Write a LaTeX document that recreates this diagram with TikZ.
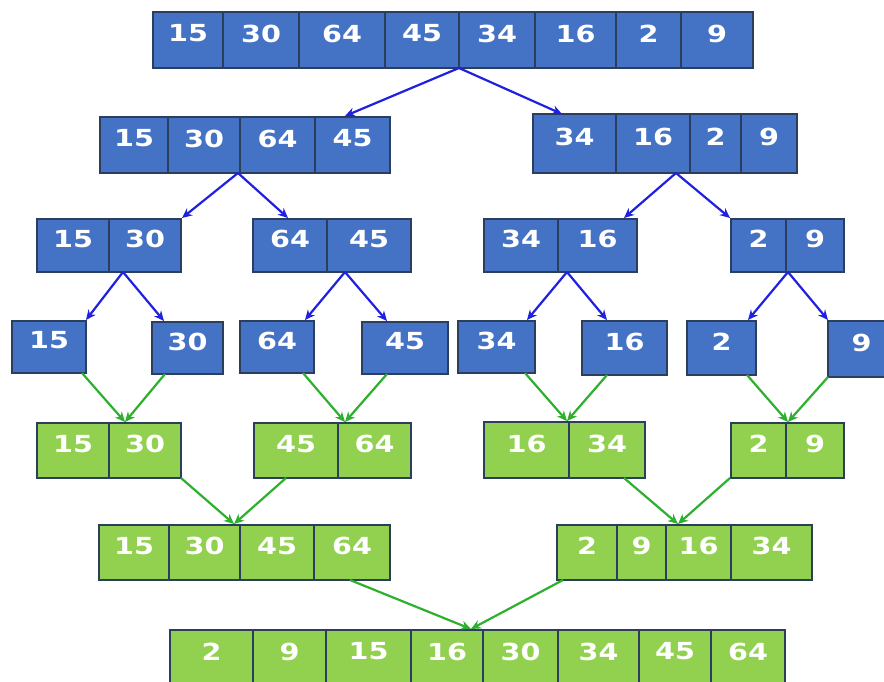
\documentclass[tikz,border=0pt]{standalone}
\usepackage{fontspec}
\newfontfamily\cellfont[FakeStretch=1.22]{DejaVu Sans Bold}
\usetikzlibrary{arrows.meta}
\definecolor{cblue}{HTML}{4472C4}
\definecolor{cgreen}{HTML}{92D050}
\definecolor{cedge}{HTML}{2B3E5E}
\definecolor{ablue}{HTML}{2020E0}
\definecolor{agreen}{HTML}{2DB02D}
\tikzset{
 cellbox/.style={draw=cedge, line width=1.5pt, inner sep=0pt, outer sep=0pt, anchor=north west},
 bluecell/.style={cellbox, fill=cblue},
 greencell/.style={cellbox, fill=cgreen},
 celltext/.style={text=white, inner sep=0pt, font=\cellfont\fontsize{23.5}{24}\selectfont, yshift=6.5pt},
 splitarrow/.style={draw=ablue, line width=2.2pt, -{Stealth[length=10pt,width=9pt]}},
 mergearrow/.style={draw=agreen, line width=2.2pt, -{Stealth[length=10pt,width=9pt]}},
}
\newcommand\cellrow[5]{%
 \foreach \xl/\xr/\lab [count=\i] in {#5}{%
   \pgfmathsetmacro\cw{\xr-\xl}%
   \pgfmathsetmacro\ch{#3-#2}%
   \node[#4, minimum width=\cw pt, minimum height=\ch pt] (#1\i) at (\xl,#2) {};
   \node[celltext] (#1\i t) at (#1\i.center) {\lab};
 }}
\begin{document}
\begin{tikzpicture}[x=1pt,y=-1pt]
\useasboundingbox (0,0) rectangle (884,681);
\clip (0,0) rectangle (884,681);
% split rows (blue)
\cellrow{ra}{12}{68}{bluecell}{153/223/15,223/299/30,299/385/64,385/459/45,459/535/34,535/616/16,616/681/2,681/753/9}
\cellrow{rbl}{117}{173}{bluecell}{100/168/15,168/240/30,240/315/64,315/390/45}
\cellrow{rbr}{114}{173}{bluecell}{533/616/34,616/690/16,690/741/2,741/797/9}
\cellrow{rca}{219}{272}{bluecell}{37/109/15,109/181/30}
\cellrow{rcb}{219}{272}{bluecell}{253/327/64,327/411/45}
\cellrow{rcc}{219}{272}{bluecell}{484/558/34,558/637/16}
\cellrow{rcd}{219}{272}{bluecell}{731/786/2,786/844/9}
\cellrow{rda}{321}{373}{bluecell}{12/86/15}
\cellrow{rdb}{322}{374}{bluecell}{152/223/30}
\cellrow{rdc}{321}{373}{bluecell}{240/314/64}
\cellrow{rdd}{322}{374}{bluecell}{362/448/45}
\cellrow{rde}{321}{373}{bluecell}{458/535/34}
\cellrow{rdf}{321}{375}{bluecell}{582/667/16}
\cellrow{rdg}{321}{375}{bluecell}{687/756/2}
\cellrow{rdh}{321}{377}{bluecell}{828/895/9}
% merge rows (green)
\cellrow{rea}{423}{478}{greencell}{37/109/15,109/181/30}
\cellrow{reb}{423}{478}{greencell}{254/338/45,338/411/64}
\cellrow{rec}{422}{478}{greencell}{484/569/16,569/645/34}
\cellrow{red}{423}{478}{greencell}{731/786/2,786/844/9}
\cellrow{rfl}{525}{580}{greencell}{99/169/15,169/240/30,240/314/45,314/390/64}
\cellrow{rfr}{525}{580}{greencell}{557/617/2,617/666/9,666/731/16,731/812/34}
\cellrow{rg}{630}{686}{greencell}{170/253/2,253/326/9,326/411/15,411/483/16,483/558/30,558/639/34,639/711/45,711/785/64}
% connector end points
\coordinate (s1) at (459,68);
\coordinate (t1l) at (345,116);
\coordinate (t1r) at (562,114);
\coordinate (s2l) at (238,173);
\coordinate (t2a) at (182,218);
\coordinate (t2b) at (288,218);
\coordinate (s2r) at (676,173);
\coordinate (t2c) at (624,218);
\coordinate (t2d) at (730,218);
\coordinate (s3a) at (123,272);
\coordinate (s3b) at (345,272);
\coordinate (s3c) at (567,272);
\coordinate (s3d) at (788,272);
\coordinate (t3a1) at (86,320);
\coordinate (t3a2) at (164,321);
\coordinate (t3b1) at (305,320);
\coordinate (t3b2) at (387,321);
\coordinate (t3c1) at (527,320);
\coordinate (t3c2) at (607,320);
\coordinate (t3d1) at (748,320);
\coordinate (t3d2) at (828,320);
\coordinate (s4a1) at (82,373);
\coordinate (s4a2) at (165,374);
\coordinate (s4b1) at (303,373);
\coordinate (s4b2) at (387,374);
\coordinate (s4c1) at (525,373);
\coordinate (s4c2) at (607,375);
\coordinate (s4d1) at (747,375);
\coordinate (s4d2) at (828,377);
\coordinate (t4a) at (125,422);
\coordinate (t4b) at (345,422);
\coordinate (t4c) at (567,421);
\coordinate (t4d) at (788,422);
\coordinate (s5a) at (181,478);
\coordinate (s5b) at (286,478);
\coordinate (s5c) at (624,478);
\coordinate (s5d) at (730,478);
\coordinate (t5l) at (234,524);
\coordinate (t5r) at (678,524);
\coordinate (s6l) at (350,580);
\coordinate (s6r) at (563,580);
\coordinate (t6) at (471,629);
% split connectors
\draw[splitarrow] (s1) -- (t1l);
\draw[splitarrow] (s1) -- (t1r);
\draw[splitarrow] (s2l) -- (t2a);
\draw[splitarrow] (s2l) -- (t2b);
\draw[splitarrow] (s2r) -- (t2c);
\draw[splitarrow] (s2r) -- (t2d);
\draw[splitarrow] (s3a) -- (t3a1);
\draw[splitarrow] (s3a) -- (t3a2);
\draw[splitarrow] (s3b) -- (t3b1);
\draw[splitarrow] (s3b) -- (t3b2);
\draw[splitarrow] (s3c) -- (t3c1);
\draw[splitarrow] (s3c) -- (t3c2);
\draw[splitarrow] (s3d) -- (t3d1);
\draw[splitarrow] (s3d) -- (t3d2);
% merge connectors
\draw[mergearrow] (s4a1) -- (t4a);
\draw[mergearrow] (s4a2) -- (t4a);
\draw[mergearrow] (s4b1) -- (t4b);
\draw[mergearrow] (s4b2) -- (t4b);
\draw[mergearrow] (s4c1) -- (t4c);
\draw[mergearrow] (s4c2) -- (t4c);
\draw[mergearrow] (s4d1) -- (t4d);
\draw[mergearrow] (s4d2) -- (t4d);
\draw[mergearrow] (s5a) -- (t5l);
\draw[mergearrow] (s5b) -- (t5l);
\draw[mergearrow] (s5c) -- (t5r);
\draw[mergearrow] (s5d) -- (t5r);
\draw[mergearrow] (s6l) -- (t6);
\draw[mergearrow] (s6r) -- (t6);
\end{tikzpicture}
\end{document}
